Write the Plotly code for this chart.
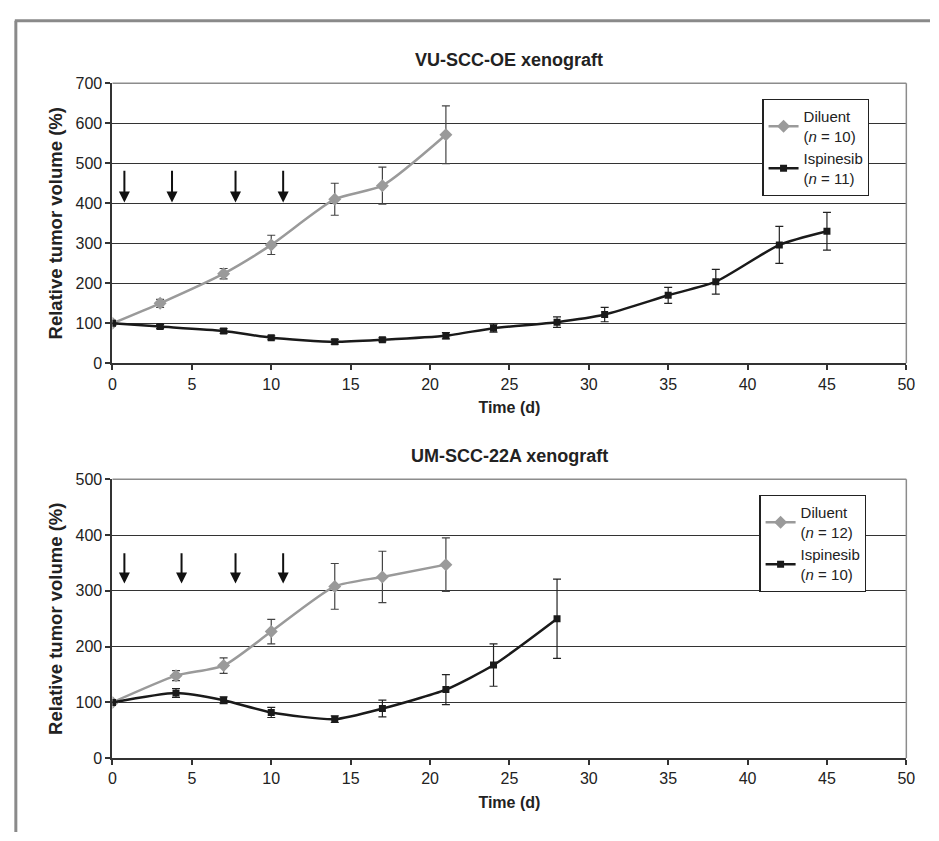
import plotly.graph_objects as go
from plotly.subplots import make_subplots

W, H = 939, 841

# ---- Top panel: VU-SCC-OE xenograft ----
top_dil_days = [0, 3, 7, 10, 14, 17, 21]
top_dil_vals = [100, 150, 224, 296, 410, 444, 571]
top_dil_err = [0, 10, 13, 24, 40, 46, 72]

top_isp_days = [0, 3, 7, 10, 14, 17, 21, 24, 28, 31, 35, 38, 42, 45]
top_isp_vals = [100, 92, 81, 64, 54, 59, 69, 88, 103, 122, 170, 204, 296, 330]
top_isp_err = [0, 5, 6, 5, 6, 5, 8, 10, 13, 18, 20, 31, 46, 47]

top_arrow_days = [0.75, 3.75, 7.75, 10.75]
top_arrow_from, top_arrow_to = 485, 402

# ---- Bottom panel: UM-SCC-22A xenograft ----
bot_dil_days = [0, 4, 7, 10, 14, 17, 21]
bot_dil_vals = [100, 148, 166, 227, 308, 325, 347]
bot_dil_err = [0, 9, 14, 22, 41, 46, 48]

bot_isp_days = [0, 4, 7, 10, 14, 17, 21, 24, 28]
bot_isp_vals = [100, 117, 104, 82, 70, 89, 123, 167, 250]
bot_isp_err = [0, 8, 6, 9, 6, 15, 27, 38, 71]

bot_arrow_days = [0.75, 4.35, 7.75, 10.75]
bot_arrow_from, bot_arrow_to = 370, 313

titles = ["VU-SCC-OE xenograft", "UM-SCC-22A xenograft"]
top_legend_names = ["Diluent<br>(<i>n</i> = 10)", "Ispinesib<br>(<i>n</i> = 11)"]
bot_legend_names = ["Diluent<br>(<i>n</i> = 12)", "Ispinesib<br>(<i>n</i> = 10)"]

FONT = "Liberation Sans, Arial, Helvetica, sans-serif"
DIL_COLOR = "#9a9a9a"
ISP_COLOR = "#1a1a1a"
TXT = "#222222"

fig = make_subplots(rows=2, cols=1)


def add_series(row, days, vals, err, name, color, symbol, msize, errcolor, legend):
    fig.add_trace(go.Scatter(
        x=days, y=vals, mode="lines+markers", name=name,
        line=dict(color=color, width=2.5, shape="spline", smoothing=0.6),
        marker=dict(symbol=symbol, size=msize, color=color),
        error_y=dict(type="data", array=err, visible=True, color=errcolor,
                     thickness=1.2, width=4),
        legend=legend,
    ), row=row, col=1)


add_series(1, top_dil_days, top_dil_vals, top_dil_err, top_legend_names[0],
           DIL_COLOR, "diamond", 10, "#444444", "legend")
add_series(1, top_isp_days, top_isp_vals, top_isp_err, top_legend_names[1],
           ISP_COLOR, "square", 7, "#222222", "legend")
add_series(2, bot_dil_days, bot_dil_vals, bot_dil_err, bot_legend_names[0],
           DIL_COLOR, "diamond", 10, "#444444", "legend2")
add_series(2, bot_isp_days, bot_isp_vals, bot_isp_err, bot_legend_names[1],
           ISP_COLOR, "square", 7, "#222222", "legend2")

x_dom = [110 / W, 915 / W]
top_dom = [1 - 362.7 / H, 1 - 76.7 / H]
bot_dom = [1 - 765.7 / H, 1 - 481 / H]

axis_common = dict(
    showline=True, linecolor="#333333", linewidth=2,
    ticks="outside", ticklen=5, tickcolor="#333333", tickwidth=1.5,
    tickfont=dict(family=FONT, size=16, color=TXT),
    zeroline=False,
)

fig.update_xaxes(**axis_common, range=[0, 50], dtick=5, tick0=0, showgrid=False,
                 domain=x_dom,
                 title=dict(text="<b>Time (d)</b>", font=dict(family=FONT, size=16, color=TXT),
                            standoff=10))
fig.update_yaxes(**axis_common, showgrid=True, gridcolor="#333333", gridwidth=1.2,
                 title=dict(text="<b>Relative tumor volume (%)</b>",
                            font=dict(family=FONT, size=18.5, color=TXT), standoff=8))
fig.update_yaxes(range=[0, 700], dtick=100, domain=top_dom, row=1, col=1)
fig.update_yaxes(range=[0, 500], dtick=100, domain=bot_dom, row=2, col=1)

shapes = []
# plot area frames (gray top/right)
for xr, yr in [("x domain", "y domain"), ("x2 domain", "y2 domain")]:
    shapes.append(dict(type="line", xref=xr, yref=yr, x0=0, x1=1, y0=1, y1=1,
                       line=dict(color="#8c8c8c", width=1.5)))
    shapes.append(dict(type="line", xref=xr, yref=yr, x0=1, x1=1, y0=0, y1=1,
                       line=dict(color="#8c8c8c", width=1.5)))
# outer figure frame (top and left gray lines)
shapes.append(dict(type="line", xref="paper", yref="paper", x0=11 / W, x1=1.0,
                   y0=1 - 13 / H, y1=1 - 13 / H, line=dict(color="#8a8a8a", width=3)))
shapes.append(dict(type="line", xref="paper", yref="paper", x0=12 / W, x1=12 / W,
                   y0=0, y1=1 - 13 / H, line=dict(color="#8a8a8a", width=3)))

annotations = []
for (xref, yref, days, y0, y1) in [("x", "y", top_arrow_days, top_arrow_from, top_arrow_to),
                                   ("x2", "y2", bot_arrow_days, bot_arrow_from, bot_arrow_to)]:
    for d in days:
        annotations.append(dict(x=d, y=y1, ax=d, ay=y0, xref=xref, yref=yref,
                                axref=xref, ayref=yref, showarrow=True, text="",
                                arrowhead=2, arrowsize=1.1, arrowwidth=2,
                                arrowcolor="#111111"))

annotations.append(dict(text="<b>%s</b>" % titles[0], x=0.5, y=1.0, xref="x domain",
                        yref="y domain", xanchor="center", yanchor="bottom", yshift=11,
                        showarrow=False, font=dict(family=FONT, size=18, color=TXT)))
annotations.append(dict(text="<b>%s</b>" % titles[1], x=0.5, y=1.0, xref="x2 domain",
                        yref="y2 domain", xanchor="center", yanchor="bottom", yshift=11,
                        showarrow=False, font=dict(family=FONT, size=18, color=TXT)))

legend_style = dict(bgcolor="white", bordercolor="#222222", borderwidth=1.2,
                    font=dict(family=FONT, size=15, color=TXT),
                    xanchor="left", yanchor="top", tracegroupgap=0,
                    itemwidth=30)

fig.update_layout(
    autosize=True,
    margin=dict(l=0, r=0, t=0, b=0),
    paper_bgcolor="white", plot_bgcolor="white",
    showlegend=True,
    legend=dict(**legend_style, x=769 / W, y=1 - 93 / H),
    legend2=dict(**legend_style, x=766 / W, y=1 - 497 / H),
    shapes=shapes,
    annotations=annotations,
    font=dict(family=FONT),
)

fig.write_html(
    "out.html",
    default_width="100vw",
    default_height="100vh",
    config=dict(displayModeBar=False, responsive=True),
    post_script=(
        "document.documentElement.style.margin='0';"
        "document.body.style.margin='0';"
        "document.body.style.overflow='hidden';"
        "var gd=document.getElementById('{plot_id}');"
        "gd.style.width='100vw';gd.style.height='100vh';"
        "Plotly.Plots.resize(gd);"
    ),
)
